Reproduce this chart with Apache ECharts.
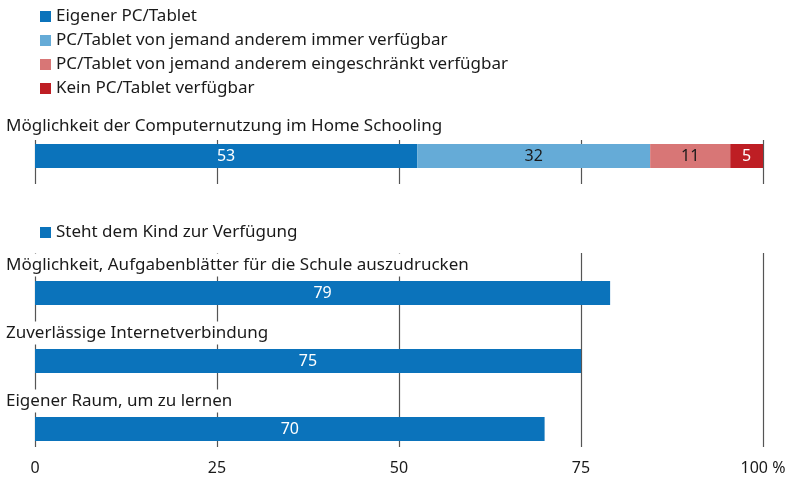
<!DOCTYPE html>
<html>
<head>
<meta charset="utf-8">
<script src="https://cdn.jsdelivr.net/npm/echarts@6/dist/echarts.min.js"></script>
<style>
html, body { margin: 0; padding: 0; background: #fff; }
#chart { width: 792px; height: 478px; }
</style>
</head>
<body>
<div id="chart"></div>
<script>
// Daten
var topTitle = 'Möglichkeit der Computernutzung im Home Schooling';
var topNames = ['Eigener PC/Tablet', 'PC/Tablet von jemand anderem immer verfügbar',
    'PC/Tablet von jemand anderem eingeschränkt verfügbar', 'Kein PC/Tablet verfügbar'];
var topValues = [52.5, 32, 11, 4.5];
var topColors = ['#0b73bb', '#65abd7', '#d87676', '#be1e24'];
var topLabelColors = ['#fff', '#1a1a1a', '#1a1a1a', '#fff'];

var bottomName = 'Steht dem Kind zur Verfügung';
var bottomCategories = ['Möglichkeit, Aufgabenblätter für die Schule auszudrucken',
    'Zuverlässige Internetverbindung', 'Eigener Raum, um zu lernen'];
var bottomValues = [79, 75, 70];
var tickValues = [0, 25, 50, 75, 100];

var FONT = 'Noto Sans';
var TEXT = '#1a1a1a';
var LINE = '#555';

var chart = echarts.init(document.getElementById('chart'));

var topSeries = topNames.map(function (name, i) {
    return {
        name: name,
        type: 'bar',
        stack: 'top',
        xAxisIndex: 0,
        yAxisIndex: 0,
        barWidth: 24,
        itemStyle: { color: topColors[i] },
        label: {
            show: true,
            position: 'inside',
            color: topLabelColors[i],
            fontFamily: FONT,
            fontSize: 16,
            formatter: function (p) { return Math.round(p.value); }
        },
        data: [topValues[i]]
    };
});

var option = {
    animation: false,
    backgroundColor: '#fff',
    textStyle: { fontFamily: FONT },
    title: {
        text: topTitle,
        left: 6,
        top: 118,
        padding: 0,
        textStyle: { fontFamily: FONT, fontSize: 17, fontWeight: 'normal', color: TEXT }
    },
    legend: [
        {
            data: topNames,
            orient: 'vertical',
            left: 40,
            top: 8,
            padding: 0,
            itemWidth: 11,
            itemHeight: 11,
            itemGap: 7,
            icon: 'rect',
            selectedMode: false,
            textStyle: { fontFamily: FONT, fontSize: 17, color: TEXT, lineHeight: 17 }
        },
        {
            data: [bottomName],
            orient: 'vertical',
            left: 40,
            top: 224,
            padding: 0,
            itemWidth: 11,
            itemHeight: 11,
            icon: 'rect',
            selectedMode: false,
            textStyle: { fontFamily: FONT, fontSize: 17, color: TEXT, lineHeight: 17 }
        }
    ],
    grid: [
        { left: 35, right: 29, top: 132, height: 48 },   // oberer Balken
        { left: 35, right: 29, top: 140, height: 44 },   // obere Linien
        { left: 35, right: 29, top: 259, height: 204 },  // untere Balken
        { left: 35, right: 29, top: 253, height: 194 }   // untere Linien + Achse
    ],
    xAxis: [0, 1, 2, 3].map(function (g) {
        var lines = (g === 1 || g === 3);
        return {
            type: 'value',
            gridIndex: g,
            min: 0,
            max: 100,
            interval: 25,
            axisLine: { show: false },
            axisTick: { show: false },
            splitLine: { show: lines, lineStyle: { color: LINE, width: 1.2 } },
            axisLabel: {
                show: g === 3,
                margin: 13,
                color: TEXT,
                fontFamily: FONT,
                fontSize: 16,
                formatter: function (v) { return tickValues.indexOf(v) === 4 ? '100 %' : v; }
            }
        };
    }),
    yAxis: [
        { type: 'category', gridIndex: 0, data: [topTitle], show: false },
        { type: 'category', gridIndex: 1, data: [''], show: false },
        { type: 'category', gridIndex: 2, data: bottomCategories, inverse: true, show: false },
        { type: 'category', gridIndex: 3, data: [''], show: false }
    ],
    series: topSeries.concat([
        {
            name: bottomName,
            type: 'bar',
            xAxisIndex: 2,
            yAxisIndex: 2,
            barWidth: 24,
            itemStyle: { color: '#0b73bb' },
            label: {
                show: true,
                position: 'inside',
                color: '#fff',
                fontFamily: FONT,
                fontSize: 16
            },
            data: bottomValues
        },
        {
            // Kategorienamen über den Balken
            name: 'labels',
            type: 'bar',
            xAxisIndex: 2,
            yAxisIndex: 2,
            barWidth: 24,
            barGap: '-100%',
            silent: true,
            z: 5,
            itemStyle: { color: 'transparent' },
            label: {
                show: true,
                position: [-30, -16],
                verticalAlign: 'middle',
                align: 'left',
                formatter: '{b}',
                color: TEXT,
                fontFamily: FONT,
                fontSize: 17,
                backgroundColor: '#fff',
                padding: [3, 4, 3, 1]
            },
            data: bottomValues
        }
    ])
};
chart.setOption(option);
</script>
</body>
</html>
